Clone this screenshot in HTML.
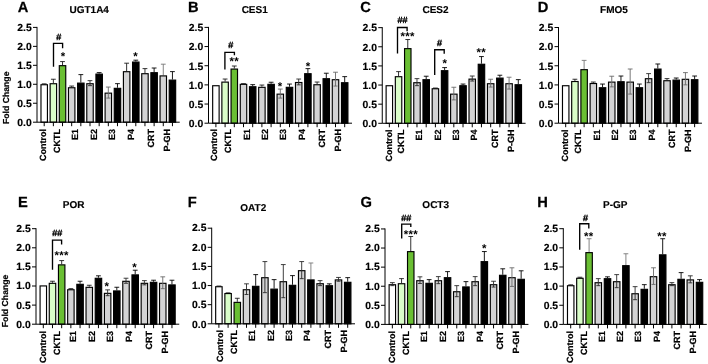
<!DOCTYPE html>
<html>
<head>
<meta charset="utf-8">
<title>Figure</title>
<style>
html,body{margin:0;padding:0;background:#fff;}
body{width:708px;height:364px;overflow:hidden;font-family:"Liberation Sans",sans-serif;}
svg{display:block;will-change:transform;}
text{font-family:"Liberation Sans",sans-serif;font-weight:bold;fill:#000;text-rendering:geometricPrecision;}
.tk{font-size:10.4px;stroke:#000;stroke-width:0.15px;}
.xl{font-size:9px;stroke:#000;stroke-width:0.2px;}
.yl{font-size:8.7px;stroke:#000;stroke-width:0.2px;}
.ti{font-size:10px;stroke:#000;stroke-width:0.15px;}
.lt{font-size:14.7px;stroke:#000;stroke-width:0.25px;}
.hs{font-size:9px;font-weight:normal;stroke:#000;stroke-width:0.4px;}
.st{font-size:11.4px;letter-spacing:0.25px;}
</style>
</head>
<body>
<svg width="708" height="364" viewBox="0 0 708 364">
<rect x="0" y="0" width="708" height="364" fill="#ffffff"/>
<g>
<path d="M44.2 84.15V83.85M41.8 83.85H46.6" stroke="#1c1c1c" stroke-width="0.9" fill="none"/>
<rect x="40.98" y="84.73" width="6.45" height="37.47" fill="#ffffff" stroke="#000" stroke-width="1.15"/>
<path d="M53.36 83.15V79.24M50.96 79.24H55.76" stroke="#1c1c1c" stroke-width="0.9" fill="none"/>
<rect x="50.14" y="83.72" width="6.45" height="38.48" fill="#dafdc9" stroke="#000" stroke-width="1.15"/>
<path d="M62.52 65.1V61.59M60.12 61.59H64.92" stroke="#1c1c1c" stroke-width="0.9" fill="none"/>
<rect x="59.3" y="65.67" width="6.45" height="56.53" fill="#6abf33" stroke="#000" stroke-width="1.15"/>
<path d="M71.68 87.16V86.06M69.28 86.06H74.08" stroke="#1c1c1c" stroke-width="0.9" fill="none"/>
<rect x="68.46" y="87.74" width="6.45" height="34.46" fill="#d3d3d4" stroke="#000" stroke-width="1.15"/>
<path d="M80.84 82.55V74.62M78.44 74.62H83.24" stroke="#000" stroke-width="0.9" fill="none"/>
<rect x="77.62" y="83.12" width="6.45" height="39.08" fill="#000000" stroke="#000" stroke-width="1.15"/>
<rect x="86.78" y="83.72" width="6.45" height="38.48" fill="#d3d3d4" stroke="#000" stroke-width="1.15"/>
<path d="M90 80.64V85.66M87.6 80.64H92.4M88 85.66H92" stroke="#2a2a2a" stroke-width="0.9" fill="none"/>
<path d="M99.16 73.52V72.62M96.76 72.62H101.56" stroke="#000" stroke-width="0.9" fill="none"/>
<rect x="95.94" y="74.1" width="6.45" height="48.1" fill="#000000" stroke="#000" stroke-width="1.15"/>
<rect x="105.1" y="93.15" width="6.45" height="29.05" fill="#d3d3d4" stroke="#000" stroke-width="1.15"/>
<path d="M108.32 87.06V98.09M105.92 87.06H110.72M106.32 98.09H110.32" stroke="#6a6a6a" stroke-width="0.9" fill="none"/>
<path d="M117.48 87.76V83.65M115.08 83.65H119.88" stroke="#000" stroke-width="0.9" fill="none"/>
<rect x="114.26" y="88.34" width="6.45" height="33.86" fill="#000000" stroke="#000" stroke-width="1.15"/>
<path d="M126.64 71.12V63.19M124.24 63.19H129.04" stroke="#1c1c1c" stroke-width="0.9" fill="none"/>
<rect x="123.42" y="71.69" width="6.45" height="50.51" fill="#d3d3d4" stroke="#000" stroke-width="1.15"/>
<path d="M135.8 61.49V60.18M133.4 60.18H138.2" stroke="#000" stroke-width="0.9" fill="none"/>
<rect x="132.57" y="62.06" width="6.45" height="60.14" fill="#000000" stroke="#000" stroke-width="1.15"/>
<path d="M144.96 73.12V68.61M142.56 68.61H147.36" stroke="#1c1c1c" stroke-width="0.9" fill="none"/>
<rect x="141.73" y="73.7" width="6.45" height="48.5" fill="#d3d3d4" stroke="#000" stroke-width="1.15"/>
<path d="M154.12 72.12V68.01M151.72 68.01H156.52" stroke="#000" stroke-width="0.9" fill="none"/>
<rect x="150.89" y="72.69" width="6.45" height="49.51" fill="#000000" stroke="#000" stroke-width="1.15"/>
<path d="M163.28 75.33V64.19M160.88 64.19H165.68" stroke="#777" stroke-width="0.9" fill="none"/>
<rect x="160.05" y="75.9" width="6.45" height="46.3" fill="#d3d3d4" stroke="#000" stroke-width="1.15"/>
<path d="M172.44 79.54V71.62M170.04 71.62H174.84" stroke="#000" stroke-width="0.9" fill="none"/>
<rect x="169.21" y="80.11" width="6.45" height="42.09" fill="#000000" stroke="#000" stroke-width="1.15"/>
<path d="M37 26.9V122.2H179.74" stroke="#000" stroke-width="1" fill="none"/>
<path d="M33 122.2H37" stroke="#000" stroke-width="1"/>
<text x="31.8" y="126" class="tk" text-anchor="end">0.0</text>
<path d="M33 103.24H37" stroke="#000" stroke-width="1"/>
<text x="31.8" y="107.04" class="tk" text-anchor="end">0.5</text>
<path d="M33 84.28H37" stroke="#000" stroke-width="1"/>
<text x="31.8" y="88.08" class="tk" text-anchor="end">1.0</text>
<path d="M33 65.32H37" stroke="#000" stroke-width="1"/>
<text x="31.8" y="69.12" class="tk" text-anchor="end">1.5</text>
<path d="M33 46.36H37" stroke="#000" stroke-width="1"/>
<text x="31.8" y="50.16" class="tk" text-anchor="end">2.0</text>
<path d="M33 27.4H37" stroke="#000" stroke-width="1"/>
<text x="31.8" y="31.2" class="tk" text-anchor="end">2.5</text>
<path d="M44.2 122.2V126.2" stroke="#000" stroke-width="1"/>
<path d="M53.36 122.2V126.2" stroke="#000" stroke-width="1"/>
<path d="M62.52 122.2V126.2" stroke="#000" stroke-width="1"/>
<path d="M71.68 122.2V126.2" stroke="#000" stroke-width="1"/>
<path d="M80.84 122.2V126.2" stroke="#000" stroke-width="1"/>
<path d="M90 122.2V126.2" stroke="#000" stroke-width="1"/>
<path d="M99.16 122.2V126.2" stroke="#000" stroke-width="1"/>
<path d="M108.32 122.2V126.2" stroke="#000" stroke-width="1"/>
<path d="M117.48 122.2V126.2" stroke="#000" stroke-width="1"/>
<path d="M126.64 122.2V126.2" stroke="#000" stroke-width="1"/>
<path d="M135.8 122.2V126.2" stroke="#000" stroke-width="1"/>
<path d="M144.96 122.2V126.2" stroke="#000" stroke-width="1"/>
<path d="M154.12 122.2V126.2" stroke="#000" stroke-width="1"/>
<path d="M163.28 122.2V126.2" stroke="#000" stroke-width="1"/>
<path d="M172.44 122.2V126.2" stroke="#000" stroke-width="1"/>
<text class="xl" text-anchor="end" transform="translate(46.2 129.1) rotate(-90)">Control</text>
<text class="xl" text-anchor="end" transform="translate(60.1 129.1) rotate(-90)">CKTL</text>
<text class="xl" text-anchor="end" transform="translate(78.3 129.1) rotate(-90)">E1</text>
<text class="xl" text-anchor="end" transform="translate(96.9 129.1) rotate(-90)">E2</text>
<text class="xl" text-anchor="end" transform="translate(114.8 129.1) rotate(-90)">E3</text>
<text class="xl" text-anchor="end" transform="translate(133.5 129.1) rotate(-90)">P4</text>
<text class="xl" text-anchor="end" transform="translate(153.8 129.1) rotate(-90)">CRT</text>
<text class="xl" text-anchor="end" transform="translate(170.4 129.1) rotate(-90)">P-GH</text>
<path d="M53.5 66.7V43.4H62.6V48.3" stroke="#000" stroke-width="1.35" fill="none"/>
<text class="hs" text-anchor="middle" x="58.7" y="40">#</text>
<text class="st" text-anchor="middle" x="63" y="60.2">*</text>
<text class="st" text-anchor="middle" x="135.7" y="59.7">*</text>
<text class="lt" x="17.7" y="11.5">A</text>
<text class="ti" text-anchor="middle" x="89.2" y="12.9">UGT1A4</text>
</g>
<g>
<rect x="212.67" y="85.73" width="6.45" height="37.47" fill="#ffffff" stroke="#000" stroke-width="1.15"/>
<path d="M225.1 81.54V79.04M222.7 79.04H227.5" stroke="#1c1c1c" stroke-width="0.9" fill="none"/>
<rect x="221.87" y="82.12" width="6.45" height="41.08" fill="#dafdc9" stroke="#000" stroke-width="1.15"/>
<path d="M234.3 68.51V66M231.9 66H236.7" stroke="#1c1c1c" stroke-width="0.9" fill="none"/>
<rect x="231.07" y="69.08" width="6.45" height="54.12" fill="#6abf33" stroke="#000" stroke-width="1.15"/>
<path d="M243.5 83.75V83.65M241.1 83.65H245.9" stroke="#1c1c1c" stroke-width="0.9" fill="none"/>
<rect x="240.27" y="84.33" width="6.45" height="38.87" fill="#d3d3d4" stroke="#000" stroke-width="1.15"/>
<path d="M252.7 86.16V84.65M250.3 84.65H255.1" stroke="#000" stroke-width="0.9" fill="none"/>
<rect x="249.47" y="86.73" width="6.45" height="36.47" fill="#000000" stroke="#000" stroke-width="1.15"/>
<path d="M261.9 86.76V85.05M259.5 85.05H264.3" stroke="#1c1c1c" stroke-width="0.9" fill="none"/>
<rect x="258.67" y="87.33" width="6.45" height="35.87" fill="#d3d3d4" stroke="#000" stroke-width="1.15"/>
<path d="M271.1 83.75V82.24M268.7 82.24H273.5" stroke="#000" stroke-width="0.9" fill="none"/>
<rect x="267.88" y="84.33" width="6.45" height="38.87" fill="#000000" stroke="#000" stroke-width="1.15"/>
<rect x="277.07" y="94.15" width="6.45" height="29.05" fill="#d3d3d4" stroke="#000" stroke-width="1.15"/>
<path d="M280.3 89.06V98.09M277.9 89.06H282.7M278.3 98.09H282.3" stroke="#6a6a6a" stroke-width="0.9" fill="none"/>
<path d="M289.5 86.76V84.05M287.1 84.05H291.9" stroke="#000" stroke-width="0.9" fill="none"/>
<rect x="286.27" y="87.33" width="6.45" height="35.87" fill="#000000" stroke="#000" stroke-width="1.15"/>
<rect x="295.47" y="82.52" width="6.45" height="40.68" fill="#d3d3d4" stroke="#000" stroke-width="1.15"/>
<path d="M298.7 79.04V84.85M296.3 79.04H301.1M296.7 84.85H300.7" stroke="#2a2a2a" stroke-width="0.9" fill="none"/>
<path d="M307.9 73.12V68.61M305.5 68.61H310.3" stroke="#000" stroke-width="0.9" fill="none"/>
<rect x="304.67" y="73.7" width="6.45" height="49.5" fill="#000000" stroke="#000" stroke-width="1.15"/>
<path d="M317.1 84.15V82.04M314.7 82.04H319.5" stroke="#1c1c1c" stroke-width="0.9" fill="none"/>
<rect x="313.88" y="84.73" width="6.45" height="38.47" fill="#d3d3d4" stroke="#000" stroke-width="1.15"/>
<path d="M326.3 78.13V73.22M323.9 73.22H328.7" stroke="#000" stroke-width="0.9" fill="none"/>
<rect x="323.07" y="78.71" width="6.45" height="44.49" fill="#000000" stroke="#000" stroke-width="1.15"/>
<rect x="332.27" y="79.71" width="6.45" height="43.49" fill="#d3d3d4" stroke="#000" stroke-width="1.15"/>
<path d="M335.5 72.22V86.06M333.1 72.22H337.9M333.5 86.06H337.5" stroke="#6a6a6a" stroke-width="0.9" fill="none"/>
<path d="M344.7 82.15V76.63M342.3 76.63H347.1" stroke="#000" stroke-width="0.9" fill="none"/>
<rect x="341.47" y="82.72" width="6.45" height="40.48" fill="#000000" stroke="#000" stroke-width="1.15"/>
<path d="M208.5 26.9V123.2H352" stroke="#000" stroke-width="1" fill="none"/>
<path d="M204.5 123.2H208.5" stroke="#000" stroke-width="1"/>
<text x="203.3" y="127" class="tk" text-anchor="end">0.0</text>
<path d="M204.5 104.04H208.5" stroke="#000" stroke-width="1"/>
<text x="203.3" y="107.84" class="tk" text-anchor="end">0.5</text>
<path d="M204.5 84.88H208.5" stroke="#000" stroke-width="1"/>
<text x="203.3" y="88.68" class="tk" text-anchor="end">1.0</text>
<path d="M204.5 65.72H208.5" stroke="#000" stroke-width="1"/>
<text x="203.3" y="69.52" class="tk" text-anchor="end">1.5</text>
<path d="M204.5 46.56H208.5" stroke="#000" stroke-width="1"/>
<text x="203.3" y="50.36" class="tk" text-anchor="end">2.0</text>
<path d="M204.5 27.4H208.5" stroke="#000" stroke-width="1"/>
<text x="203.3" y="31.2" class="tk" text-anchor="end">2.5</text>
<path d="M215.9 123.2V127.2" stroke="#000" stroke-width="1"/>
<path d="M225.1 123.2V127.2" stroke="#000" stroke-width="1"/>
<path d="M234.3 123.2V127.2" stroke="#000" stroke-width="1"/>
<path d="M243.5 123.2V127.2" stroke="#000" stroke-width="1"/>
<path d="M252.7 123.2V127.2" stroke="#000" stroke-width="1"/>
<path d="M261.9 123.2V127.2" stroke="#000" stroke-width="1"/>
<path d="M271.1 123.2V127.2" stroke="#000" stroke-width="1"/>
<path d="M280.3 123.2V127.2" stroke="#000" stroke-width="1"/>
<path d="M289.5 123.2V127.2" stroke="#000" stroke-width="1"/>
<path d="M298.7 123.2V127.2" stroke="#000" stroke-width="1"/>
<path d="M307.9 123.2V127.2" stroke="#000" stroke-width="1"/>
<path d="M317.1 123.2V127.2" stroke="#000" stroke-width="1"/>
<path d="M326.3 123.2V127.2" stroke="#000" stroke-width="1"/>
<path d="M335.5 123.2V127.2" stroke="#000" stroke-width="1"/>
<path d="M344.7 123.2V127.2" stroke="#000" stroke-width="1"/>
<text class="xl" text-anchor="end" transform="translate(217.1 129.1) rotate(-90)">Control</text>
<text class="xl" text-anchor="end" transform="translate(231.1 129.1) rotate(-90)">CKTL</text>
<text class="xl" text-anchor="end" transform="translate(249.6 129.1) rotate(-90)">E1</text>
<text class="xl" text-anchor="end" transform="translate(268.3 129.1) rotate(-90)">E2</text>
<text class="xl" text-anchor="end" transform="translate(286.1 129.1) rotate(-90)">E3</text>
<text class="xl" text-anchor="end" transform="translate(304.8 129.1) rotate(-90)">P4</text>
<text class="xl" text-anchor="end" transform="translate(325 129.1) rotate(-90)">CRT</text>
<text class="xl" text-anchor="end" transform="translate(341.4 129.1) rotate(-90)">P-GH</text>
<path d="M224.9 69.5V52.3H234.4V55.3" stroke="#000" stroke-width="1.35" fill="none"/>
<text class="hs" text-anchor="middle" x="230.7" y="47.6">#</text>
<text class="st" text-anchor="middle" x="234.2" y="65.4">**</text>
<text class="st" text-anchor="middle" x="280.2" y="89.8">*</text>
<text class="st" text-anchor="middle" x="308" y="69.6">*</text>
<text class="lt" x="188.1" y="11.8">B</text>
<text class="ti" text-anchor="middle" x="254.7" y="12.9">CES1</text>
</g>
<g>
<rect x="386.12" y="85.73" width="6.45" height="37.57" fill="#ffffff" stroke="#000" stroke-width="1.15"/>
<path d="M398.56 76.13V71.62M396.16 71.62H400.96" stroke="#1c1c1c" stroke-width="0.9" fill="none"/>
<rect x="395.33" y="76.7" width="6.45" height="46.6" fill="#dafdc9" stroke="#000" stroke-width="1.15"/>
<path d="M407.77 48.05V39.53M405.37 39.53H410.17" stroke="#1c1c1c" stroke-width="0.9" fill="none"/>
<rect x="404.55" y="48.63" width="6.45" height="74.67" fill="#6abf33" stroke="#000" stroke-width="1.15"/>
<rect x="413.75" y="82.72" width="6.45" height="40.58" fill="#d3d3d4" stroke="#000" stroke-width="1.15"/>
<path d="M416.98 78.63V85.66M414.58 78.63H419.38M414.98 85.66H418.98" stroke="#2a2a2a" stroke-width="0.9" fill="none"/>
<path d="M426.19 79.14V76.23M423.79 76.23H428.59" stroke="#000" stroke-width="0.9" fill="none"/>
<rect x="422.97" y="79.71" width="6.45" height="43.59" fill="#000000" stroke="#000" stroke-width="1.15"/>
<path d="M435.4 88.16V88.06M433 88.06H437.8" stroke="#1c1c1c" stroke-width="0.9" fill="none"/>
<rect x="432.18" y="88.74" width="6.45" height="34.56" fill="#d3d3d4" stroke="#000" stroke-width="1.15"/>
<path d="M444.61 70.11V67.6M442.21 67.6H447.01" stroke="#000" stroke-width="0.9" fill="none"/>
<rect x="441.38" y="70.69" width="6.45" height="52.61" fill="#000000" stroke="#000" stroke-width="1.15"/>
<rect x="450.6" y="94.15" width="6.45" height="29.15" fill="#d3d3d4" stroke="#000" stroke-width="1.15"/>
<path d="M453.82 87.26V99.9M451.42 87.26H456.22M451.82 99.9H455.82" stroke="#6a6a6a" stroke-width="0.9" fill="none"/>
<path d="M463.03 85.15V84.05M460.63 84.05H465.43" stroke="#000" stroke-width="0.9" fill="none"/>
<rect x="459.81" y="85.73" width="6.45" height="37.57" fill="#000000" stroke="#000" stroke-width="1.15"/>
<rect x="469.01" y="79.11" width="6.45" height="44.19" fill="#d3d3d4" stroke="#000" stroke-width="1.15"/>
<path d="M472.24 76.03V81.04M469.84 76.03H474.64M470.24 81.04H474.24" stroke="#2a2a2a" stroke-width="0.9" fill="none"/>
<path d="M481.45 63.69V56.57M479.05 56.57H483.85" stroke="#000" stroke-width="0.9" fill="none"/>
<rect x="478.23" y="64.27" width="6.45" height="59.03" fill="#000000" stroke="#000" stroke-width="1.15"/>
<rect x="487.44" y="83.72" width="6.45" height="39.58" fill="#d3d3d4" stroke="#000" stroke-width="1.15"/>
<path d="M490.66 79.24V87.06M488.26 79.24H493.06M488.66 87.06H492.66" stroke="#6a6a6a" stroke-width="0.9" fill="none"/>
<path d="M499.87 77.53V75.23M497.47 75.23H502.27" stroke="#000" stroke-width="0.9" fill="none"/>
<rect x="496.64" y="78.11" width="6.45" height="45.19" fill="#000000" stroke="#000" stroke-width="1.15"/>
<rect x="505.86" y="83.72" width="6.45" height="39.58" fill="#d3d3d4" stroke="#000" stroke-width="1.15"/>
<path d="M509.08 77.23V89.07M506.68 77.23H511.48M507.08 89.07H511.08" stroke="#6a6a6a" stroke-width="0.9" fill="none"/>
<path d="M518.29 84.15V79.64M515.89 79.64H520.69" stroke="#000" stroke-width="0.9" fill="none"/>
<rect x="515.07" y="84.73" width="6.45" height="38.57" fill="#000000" stroke="#000" stroke-width="1.15"/>
<path d="M382.25 27.15V123.3H525.59" stroke="#000" stroke-width="1" fill="none"/>
<path d="M378.25 123.3H382.25" stroke="#000" stroke-width="1"/>
<text x="377.05" y="127.1" class="tk" text-anchor="end">0.0</text>
<path d="M378.25 104.17H382.25" stroke="#000" stroke-width="1"/>
<text x="377.05" y="107.97" class="tk" text-anchor="end">0.5</text>
<path d="M378.25 85.04H382.25" stroke="#000" stroke-width="1"/>
<text x="377.05" y="88.84" class="tk" text-anchor="end">1.0</text>
<path d="M378.25 65.91H382.25" stroke="#000" stroke-width="1"/>
<text x="377.05" y="69.71" class="tk" text-anchor="end">1.5</text>
<path d="M378.25 46.78H382.25" stroke="#000" stroke-width="1"/>
<text x="377.05" y="50.58" class="tk" text-anchor="end">2.0</text>
<path d="M378.25 27.65H382.25" stroke="#000" stroke-width="1"/>
<text x="377.05" y="31.45" class="tk" text-anchor="end">2.5</text>
<path d="M389.35 123.3V127.3" stroke="#000" stroke-width="1"/>
<path d="M398.56 123.3V127.3" stroke="#000" stroke-width="1"/>
<path d="M407.77 123.3V127.3" stroke="#000" stroke-width="1"/>
<path d="M416.98 123.3V127.3" stroke="#000" stroke-width="1"/>
<path d="M426.19 123.3V127.3" stroke="#000" stroke-width="1"/>
<path d="M435.4 123.3V127.3" stroke="#000" stroke-width="1"/>
<path d="M444.61 123.3V127.3" stroke="#000" stroke-width="1"/>
<path d="M453.82 123.3V127.3" stroke="#000" stroke-width="1"/>
<path d="M463.03 123.3V127.3" stroke="#000" stroke-width="1"/>
<path d="M472.24 123.3V127.3" stroke="#000" stroke-width="1"/>
<path d="M481.45 123.3V127.3" stroke="#000" stroke-width="1"/>
<path d="M490.66 123.3V127.3" stroke="#000" stroke-width="1"/>
<path d="M499.87 123.3V127.3" stroke="#000" stroke-width="1"/>
<path d="M509.08 123.3V127.3" stroke="#000" stroke-width="1"/>
<path d="M518.29 123.3V127.3" stroke="#000" stroke-width="1"/>
<text class="xl" text-anchor="end" transform="translate(391.7 129.6) rotate(-90)">Control</text>
<text class="xl" text-anchor="end" transform="translate(404.1 129.6) rotate(-90)">CKTL</text>
<text class="xl" text-anchor="end" transform="translate(422.2 129.6) rotate(-90)">E1</text>
<text class="xl" text-anchor="end" transform="translate(440.7 129.6) rotate(-90)">E2</text>
<text class="xl" text-anchor="end" transform="translate(458.7 129.6) rotate(-90)">E3</text>
<text class="xl" text-anchor="end" transform="translate(477.4 129.6) rotate(-90)">P4</text>
<text class="xl" text-anchor="end" transform="translate(497.6 129.6) rotate(-90)">CRT</text>
<text class="xl" text-anchor="end" transform="translate(514.1 129.6) rotate(-90)">P-GH</text>
<path d="M397.5 53.6V27.5H407.1V31.2" stroke="#000" stroke-width="1.35" fill="none"/>
<path d="M434.7 75.1V49.7H444.2V53.7" stroke="#000" stroke-width="1.35" fill="none"/>
<text class="hs" text-anchor="middle" x="402.5" y="23.1">##</text>
<text class="st" text-anchor="middle" x="407.6" y="40.1">***</text>
<text class="hs" text-anchor="middle" x="439.6" y="46">#</text>
<text class="st" text-anchor="middle" x="444.8" y="67.2">*</text>
<text class="st" text-anchor="middle" x="481.3" y="56.4">**</text>
<text class="lt" x="360.3" y="11.9">C</text>
<text class="ti" text-anchor="middle" x="435.5" y="13.3">CES2</text>
</g>
<g>
<rect x="562.48" y="85.73" width="6.45" height="37.47" fill="#ffffff" stroke="#000" stroke-width="1.15"/>
<path d="M574.91 80.94V79.24M572.51 79.24H577.31" stroke="#1c1c1c" stroke-width="0.9" fill="none"/>
<rect x="571.69" y="81.52" width="6.45" height="41.68" fill="#dafdc9" stroke="#000" stroke-width="1.15"/>
<path d="M584.12 69.11V60.38M581.72 60.38H586.52" stroke="#777" stroke-width="0.9" fill="none"/>
<rect x="580.9" y="69.68" width="6.45" height="53.52" fill="#6abf33" stroke="#000" stroke-width="1.15"/>
<path d="M593.33 82.95V82.04M590.93 82.04H595.73" stroke="#1c1c1c" stroke-width="0.9" fill="none"/>
<rect x="590.11" y="83.52" width="6.45" height="39.68" fill="#d3d3d4" stroke="#000" stroke-width="1.15"/>
<path d="M602.54 87.16V84.05M600.14 84.05H604.94" stroke="#000" stroke-width="0.9" fill="none"/>
<rect x="599.32" y="87.74" width="6.45" height="35.46" fill="#000000" stroke="#000" stroke-width="1.15"/>
<rect x="608.53" y="82.12" width="6.45" height="41.08" fill="#d3d3d4" stroke="#000" stroke-width="1.15"/>
<path d="M611.75 76.23V86.86M609.35 76.23H614.15M609.75 86.86H613.75" stroke="#6a6a6a" stroke-width="0.9" fill="none"/>
<path d="M620.96 81.14V76.03M618.56 76.03H623.36" stroke="#000" stroke-width="0.9" fill="none"/>
<rect x="617.74" y="81.72" width="6.45" height="41.48" fill="#000000" stroke="#000" stroke-width="1.15"/>
<rect x="626.95" y="82.12" width="6.45" height="41.08" fill="#d3d3d4" stroke="#000" stroke-width="1.15"/>
<path d="M630.17 69.01V94.08M627.77 69.01H632.57M628.17 94.08H632.17" stroke="#6a6a6a" stroke-width="0.9" fill="none"/>
<path d="M639.38 87.16V84.05M636.98 84.05H641.78" stroke="#000" stroke-width="0.9" fill="none"/>
<rect x="636.16" y="87.74" width="6.45" height="35.46" fill="#000000" stroke="#000" stroke-width="1.15"/>
<rect x="645.37" y="78.71" width="6.45" height="44.49" fill="#d3d3d4" stroke="#000" stroke-width="1.15"/>
<path d="M648.59 73.62V82.65M646.19 73.62H650.99M646.59 82.65H650.59" stroke="#2a2a2a" stroke-width="0.9" fill="none"/>
<path d="M657.8 68.51V63.99M655.4 63.99H660.2" stroke="#000" stroke-width="0.9" fill="none"/>
<rect x="654.58" y="69.08" width="6.45" height="54.12" fill="#000000" stroke="#000" stroke-width="1.15"/>
<path d="M667.01 80.14V78.63M664.61 78.63H669.41" stroke="#1c1c1c" stroke-width="0.9" fill="none"/>
<rect x="663.79" y="80.72" width="6.45" height="42.48" fill="#d3d3d4" stroke="#000" stroke-width="1.15"/>
<path d="M676.22 79.54V78.03M673.82 78.03H678.62" stroke="#000" stroke-width="0.9" fill="none"/>
<rect x="673" y="80.11" width="6.45" height="43.09" fill="#000000" stroke="#000" stroke-width="1.15"/>
<rect x="682.21" y="79.31" width="6.45" height="43.89" fill="#d3d3d4" stroke="#000" stroke-width="1.15"/>
<path d="M685.43 72.62V84.85M683.03 72.62H687.83M683.43 84.85H687.43" stroke="#6a6a6a" stroke-width="0.9" fill="none"/>
<path d="M694.64 79.14V76.03M692.24 76.03H697.04" stroke="#000" stroke-width="0.9" fill="none"/>
<rect x="691.42" y="79.71" width="6.45" height="43.49" fill="#000000" stroke="#000" stroke-width="1.15"/>
<path d="M558.5 27V123.2H701.94" stroke="#000" stroke-width="1" fill="none"/>
<path d="M554.5 123.2H558.5" stroke="#000" stroke-width="1"/>
<text x="553.3" y="127" class="tk" text-anchor="end">0.0</text>
<path d="M554.5 104.06H558.5" stroke="#000" stroke-width="1"/>
<text x="553.3" y="107.86" class="tk" text-anchor="end">0.5</text>
<path d="M554.5 84.92H558.5" stroke="#000" stroke-width="1"/>
<text x="553.3" y="88.72" class="tk" text-anchor="end">1.0</text>
<path d="M554.5 65.78H558.5" stroke="#000" stroke-width="1"/>
<text x="553.3" y="69.58" class="tk" text-anchor="end">1.5</text>
<path d="M554.5 46.64H558.5" stroke="#000" stroke-width="1"/>
<text x="553.3" y="50.44" class="tk" text-anchor="end">2.0</text>
<path d="M554.5 27.5H558.5" stroke="#000" stroke-width="1"/>
<text x="553.3" y="31.3" class="tk" text-anchor="end">2.5</text>
<path d="M565.7 123.2V127.2" stroke="#000" stroke-width="1"/>
<path d="M574.91 123.2V127.2" stroke="#000" stroke-width="1"/>
<path d="M584.12 123.2V127.2" stroke="#000" stroke-width="1"/>
<path d="M593.33 123.2V127.2" stroke="#000" stroke-width="1"/>
<path d="M602.54 123.2V127.2" stroke="#000" stroke-width="1"/>
<path d="M611.75 123.2V127.2" stroke="#000" stroke-width="1"/>
<path d="M620.96 123.2V127.2" stroke="#000" stroke-width="1"/>
<path d="M630.17 123.2V127.2" stroke="#000" stroke-width="1"/>
<path d="M639.38 123.2V127.2" stroke="#000" stroke-width="1"/>
<path d="M648.59 123.2V127.2" stroke="#000" stroke-width="1"/>
<path d="M657.8 123.2V127.2" stroke="#000" stroke-width="1"/>
<path d="M667.01 123.2V127.2" stroke="#000" stroke-width="1"/>
<path d="M676.22 123.2V127.2" stroke="#000" stroke-width="1"/>
<path d="M685.43 123.2V127.2" stroke="#000" stroke-width="1"/>
<path d="M694.64 123.2V127.2" stroke="#000" stroke-width="1"/>
<text class="xl" text-anchor="end" transform="translate(568.1 129.6) rotate(-90)">Control</text>
<text class="xl" text-anchor="end" transform="translate(581.3 129.6) rotate(-90)">CKTL</text>
<text class="xl" text-anchor="end" transform="translate(599.5 129.6) rotate(-90)">E1</text>
<text class="xl" text-anchor="end" transform="translate(618.2 129.6) rotate(-90)">E2</text>
<text class="xl" text-anchor="end" transform="translate(636.1 129.6) rotate(-90)">E3</text>
<text class="xl" text-anchor="end" transform="translate(654.8 129.6) rotate(-90)">P4</text>
<text class="xl" text-anchor="end" transform="translate(675 129.6) rotate(-90)">CRT</text>
<text class="xl" text-anchor="end" transform="translate(691.4 129.6) rotate(-90)">P-GH</text>
<text class="lt" x="537.8" y="11.9">D</text>
<text class="ti" text-anchor="middle" x="614" y="13.2">FMO5</text>
</g>
<g>
<rect x="40.08" y="285.93" width="6.45" height="38.27" fill="#ffffff" stroke="#000" stroke-width="1.15"/>
<path d="M52.49 282.74V281.24M50.09 281.24H54.89" stroke="#1c1c1c" stroke-width="0.9" fill="none"/>
<rect x="49.27" y="283.32" width="6.45" height="40.88" fill="#dafdc9" stroke="#000" stroke-width="1.15"/>
<path d="M61.68 264.29V260.58M59.28 260.58H64.08" stroke="#1c1c1c" stroke-width="0.9" fill="none"/>
<rect x="58.45" y="264.87" width="6.45" height="59.33" fill="#6abf33" stroke="#000" stroke-width="1.15"/>
<path d="M70.87 289.16V288.66M68.47 288.66H73.27" stroke="#1c1c1c" stroke-width="0.9" fill="none"/>
<rect x="67.65" y="289.74" width="6.45" height="34.46" fill="#d3d3d4" stroke="#000" stroke-width="1.15"/>
<path d="M80.06 283.75V281.24M77.66 281.24H82.46" stroke="#000" stroke-width="0.9" fill="none"/>
<rect x="76.84" y="284.32" width="6.45" height="39.88" fill="#000000" stroke="#000" stroke-width="1.15"/>
<path d="M89.25 286.75V285.25M86.85 285.25H91.65" stroke="#1c1c1c" stroke-width="0.9" fill="none"/>
<rect x="86.03" y="287.33" width="6.45" height="36.87" fill="#d3d3d4" stroke="#000" stroke-width="1.15"/>
<path d="M98.44 277.73V275.82M96.04 275.82H100.84" stroke="#000" stroke-width="0.9" fill="none"/>
<rect x="95.22" y="278.3" width="6.45" height="45.9" fill="#000000" stroke="#000" stroke-width="1.15"/>
<rect x="104.41" y="293.35" width="6.45" height="30.85" fill="#d3d3d4" stroke="#000" stroke-width="1.15"/>
<path d="M107.63 289.86V295.68M105.23 289.86H110.03M105.63 295.68H109.63" stroke="#2a2a2a" stroke-width="0.9" fill="none"/>
<path d="M116.82 290.36V287.25M114.42 287.25H119.22" stroke="#000" stroke-width="0.9" fill="none"/>
<rect x="113.59" y="290.94" width="6.45" height="33.26" fill="#000000" stroke="#000" stroke-width="1.15"/>
<rect x="122.78" y="281.31" width="6.45" height="42.89" fill="#d3d3d4" stroke="#000" stroke-width="1.15"/>
<path d="M126.01 278.23V283.25M123.61 278.23H128.41M124.01 283.25H128.01" stroke="#2a2a2a" stroke-width="0.9" fill="none"/>
<path d="M135.2 274.32V270.21M132.8 270.21H137.6" stroke="#000" stroke-width="0.9" fill="none"/>
<rect x="131.97" y="274.89" width="6.45" height="49.31" fill="#000000" stroke="#000" stroke-width="1.15"/>
<rect x="141.16" y="283.32" width="6.45" height="40.88" fill="#d3d3d4" stroke="#000" stroke-width="1.15"/>
<path d="M144.39 280.64V284.85M141.99 280.64H146.79M142.39 284.85H146.39" stroke="#2a2a2a" stroke-width="0.9" fill="none"/>
<path d="M153.58 281.74V280.23M151.18 280.23H155.98" stroke="#000" stroke-width="0.9" fill="none"/>
<rect x="150.35" y="282.32" width="6.45" height="41.88" fill="#000000" stroke="#000" stroke-width="1.15"/>
<rect x="159.54" y="283.32" width="6.45" height="40.88" fill="#d3d3d4" stroke="#000" stroke-width="1.15"/>
<path d="M162.77 276.83V288.66M160.37 276.83H165.17M160.77 288.66H164.77" stroke="#6a6a6a" stroke-width="0.9" fill="none"/>
<path d="M171.96 284.35V280.23M169.56 280.23H174.36" stroke="#000" stroke-width="0.9" fill="none"/>
<rect x="168.73" y="284.92" width="6.45" height="39.28" fill="#000000" stroke="#000" stroke-width="1.15"/>
<path d="M36 228.2V324.2H179.26" stroke="#000" stroke-width="1" fill="none"/>
<path d="M32 324.2H36" stroke="#000" stroke-width="1"/>
<text x="30.8" y="327.9" class="tk" text-anchor="end">0.0</text>
<path d="M32 305.1H36" stroke="#000" stroke-width="1"/>
<text x="30.8" y="308.68" class="tk" text-anchor="end">0.5</text>
<path d="M32 286H36" stroke="#000" stroke-width="1"/>
<text x="30.8" y="289.46" class="tk" text-anchor="end">1.0</text>
<path d="M32 266.9H36" stroke="#000" stroke-width="1"/>
<text x="30.8" y="270.24" class="tk" text-anchor="end">1.5</text>
<path d="M32 247.8H36" stroke="#000" stroke-width="1"/>
<text x="30.8" y="251.02" class="tk" text-anchor="end">2.0</text>
<path d="M32 228.7H36" stroke="#000" stroke-width="1"/>
<text x="30.8" y="231.8" class="tk" text-anchor="end">2.5</text>
<path d="M43.3 324.2V328.2" stroke="#000" stroke-width="1"/>
<path d="M52.49 324.2V328.2" stroke="#000" stroke-width="1"/>
<path d="M61.68 324.2V328.2" stroke="#000" stroke-width="1"/>
<path d="M70.87 324.2V328.2" stroke="#000" stroke-width="1"/>
<path d="M80.06 324.2V328.2" stroke="#000" stroke-width="1"/>
<path d="M89.25 324.2V328.2" stroke="#000" stroke-width="1"/>
<path d="M98.44 324.2V328.2" stroke="#000" stroke-width="1"/>
<path d="M107.63 324.2V328.2" stroke="#000" stroke-width="1"/>
<path d="M116.82 324.2V328.2" stroke="#000" stroke-width="1"/>
<path d="M126.01 324.2V328.2" stroke="#000" stroke-width="1"/>
<path d="M135.2 324.2V328.2" stroke="#000" stroke-width="1"/>
<path d="M144.39 324.2V328.2" stroke="#000" stroke-width="1"/>
<path d="M153.58 324.2V328.2" stroke="#000" stroke-width="1"/>
<path d="M162.77 324.2V328.2" stroke="#000" stroke-width="1"/>
<path d="M171.96 324.2V328.2" stroke="#000" stroke-width="1"/>
<text class="xl" text-anchor="end" transform="translate(45.7 331) rotate(-90)">Control</text>
<text class="xl" text-anchor="end" transform="translate(59.7 331) rotate(-90)">CKTL</text>
<text class="xl" text-anchor="end" transform="translate(76.4 331) rotate(-90)">E1</text>
<text class="xl" text-anchor="end" transform="translate(95.3 331) rotate(-90)">E2</text>
<text class="xl" text-anchor="end" transform="translate(113.2 331) rotate(-90)">E3</text>
<text class="xl" text-anchor="end" transform="translate(132 331) rotate(-90)">P4</text>
<text class="xl" text-anchor="end" transform="translate(152 331) rotate(-90)">CRT</text>
<text class="xl" text-anchor="end" transform="translate(168.4 331) rotate(-90)">P-GH</text>
<path d="M52.5 269.8V240.1H61.6V244.5" stroke="#000" stroke-width="1.35" fill="none"/>
<text class="hs" text-anchor="middle" x="57.2" y="235.7">##</text>
<text class="st" text-anchor="middle" x="61.6" y="259.4">***</text>
<text class="st" text-anchor="middle" x="106.8" y="289.8">*</text>
<text class="st" text-anchor="middle" x="134.7" y="270.8">*</text>
<text class="lt" x="17.9" y="207.3">E</text>
<text class="ti" text-anchor="middle" x="73.7" y="207.7">POR</text>
</g>
<g>
<path d="M218.9 286.15V286.05M216.5 286.05H221.3" stroke="#1c1c1c" stroke-width="0.9" fill="none"/>
<rect x="215.67" y="286.73" width="6.45" height="37.07" fill="#ffffff" stroke="#000" stroke-width="1.15"/>
<path d="M228.1 292.97V292.87M225.7 292.87H230.5" stroke="#1c1c1c" stroke-width="0.9" fill="none"/>
<rect x="224.87" y="293.55" width="6.45" height="30.25" fill="#dafdc9" stroke="#000" stroke-width="1.15"/>
<path d="M237.3 301.8V298.28M234.9 298.28H239.7" stroke="#1c1c1c" stroke-width="0.9" fill="none"/>
<rect x="234.07" y="302.37" width="6.45" height="21.43" fill="#6abf33" stroke="#000" stroke-width="1.15"/>
<rect x="243.27" y="289.74" width="6.45" height="34.06" fill="#d3d3d4" stroke="#000" stroke-width="1.15"/>
<path d="M246.5 283.84V294.48M244.1 283.84H248.9M244.5 294.48H248.5" stroke="#2a2a2a" stroke-width="0.9" fill="none"/>
<path d="M255.7 285.75V274.62M253.3 274.62H258.1" stroke="#000" stroke-width="0.9" fill="none"/>
<rect x="252.47" y="286.33" width="6.45" height="37.47" fill="#000000" stroke="#000" stroke-width="1.15"/>
<rect x="261.67" y="277.7" width="6.45" height="46.1" fill="#d3d3d4" stroke="#000" stroke-width="1.15"/>
<path d="M264.9 261.58V292.67M262.5 261.58H267.3M262.9 292.67H266.9" stroke="#2a2a2a" stroke-width="0.9" fill="none"/>
<path d="M274.1 288.56V279.63M271.7 279.63H276.5" stroke="#000" stroke-width="0.9" fill="none"/>
<rect x="270.88" y="289.13" width="6.45" height="34.67" fill="#000000" stroke="#000" stroke-width="1.15"/>
<rect x="280.07" y="281.71" width="6.45" height="42.09" fill="#d3d3d4" stroke="#000" stroke-width="1.15"/>
<path d="M283.3 264.59V297.69M280.9 264.59H285.7M281.3 297.69H285.3" stroke="#2a2a2a" stroke-width="0.9" fill="none"/>
<path d="M292.5 284.75V275.62M290.1 275.62H294.9" stroke="#000" stroke-width="0.9" fill="none"/>
<rect x="289.27" y="285.32" width="6.45" height="38.48" fill="#000000" stroke="#000" stroke-width="1.15"/>
<rect x="298.47" y="270.68" width="6.45" height="53.12" fill="#d3d3d4" stroke="#000" stroke-width="1.15"/>
<path d="M301.7 261.58V278.63M299.3 261.58H304.1M299.7 278.63H303.7" stroke="#2a2a2a" stroke-width="0.9" fill="none"/>
<path d="M310.9 279.33V262.99M308.5 262.99H313.3" stroke="#777" stroke-width="0.9" fill="none"/>
<rect x="307.67" y="279.91" width="6.45" height="43.89" fill="#000000" stroke="#000" stroke-width="1.15"/>
<rect x="316.88" y="283.72" width="6.45" height="40.08" fill="#d3d3d4" stroke="#000" stroke-width="1.15"/>
<path d="M320.1 280.63V285.65M317.7 280.63H322.5M318.1 285.65H322.1" stroke="#2a2a2a" stroke-width="0.9" fill="none"/>
<path d="M329.3 285.15V283.84M326.9 283.84H331.7" stroke="#000" stroke-width="0.9" fill="none"/>
<rect x="326.07" y="285.72" width="6.45" height="38.08" fill="#000000" stroke="#000" stroke-width="1.15"/>
<rect x="335.27" y="279.91" width="6.45" height="43.89" fill="#d3d3d4" stroke="#000" stroke-width="1.15"/>
<path d="M338.5 277.43V281.24M336.1 277.43H340.9M336.5 281.24H340.5" stroke="#2a2a2a" stroke-width="0.9" fill="none"/>
<path d="M347.7 281.74V277.63M345.3 277.63H350.1" stroke="#000" stroke-width="0.9" fill="none"/>
<rect x="344.47" y="282.31" width="6.45" height="41.49" fill="#000000" stroke="#000" stroke-width="1.15"/>
<path d="M211.7 227.7V323.8H355" stroke="#000" stroke-width="1" fill="none"/>
<path d="M207.7 323.8H211.7" stroke="#000" stroke-width="1"/>
<text x="206.5" y="327.5" class="tk" text-anchor="end">0.0</text>
<path d="M207.7 304.68H211.7" stroke="#000" stroke-width="1"/>
<text x="206.5" y="308.26" class="tk" text-anchor="end">0.5</text>
<path d="M207.7 285.56H211.7" stroke="#000" stroke-width="1"/>
<text x="206.5" y="289.02" class="tk" text-anchor="end">1.0</text>
<path d="M207.7 266.44H211.7" stroke="#000" stroke-width="1"/>
<text x="206.5" y="269.78" class="tk" text-anchor="end">1.5</text>
<path d="M207.7 247.32H211.7" stroke="#000" stroke-width="1"/>
<text x="206.5" y="250.54" class="tk" text-anchor="end">2.0</text>
<path d="M207.7 228.2H211.7" stroke="#000" stroke-width="1"/>
<text x="206.5" y="231.3" class="tk" text-anchor="end">2.5</text>
<path d="M218.9 323.8V327.8" stroke="#000" stroke-width="1"/>
<path d="M228.1 323.8V327.8" stroke="#000" stroke-width="1"/>
<path d="M237.3 323.8V327.8" stroke="#000" stroke-width="1"/>
<path d="M246.5 323.8V327.8" stroke="#000" stroke-width="1"/>
<path d="M255.7 323.8V327.8" stroke="#000" stroke-width="1"/>
<path d="M264.9 323.8V327.8" stroke="#000" stroke-width="1"/>
<path d="M274.1 323.8V327.8" stroke="#000" stroke-width="1"/>
<path d="M283.3 323.8V327.8" stroke="#000" stroke-width="1"/>
<path d="M292.5 323.8V327.8" stroke="#000" stroke-width="1"/>
<path d="M301.7 323.8V327.8" stroke="#000" stroke-width="1"/>
<path d="M310.9 323.8V327.8" stroke="#000" stroke-width="1"/>
<path d="M320.1 323.8V327.8" stroke="#000" stroke-width="1"/>
<path d="M329.3 323.8V327.8" stroke="#000" stroke-width="1"/>
<path d="M338.5 323.8V327.8" stroke="#000" stroke-width="1"/>
<path d="M347.7 323.8V327.8" stroke="#000" stroke-width="1"/>
<text class="xl" text-anchor="end" transform="translate(222.9 329.9) rotate(-90)">Control</text>
<text class="xl" text-anchor="end" transform="translate(236.6 329.9) rotate(-90)">CKTL</text>
<text class="xl" text-anchor="end" transform="translate(255 329.9) rotate(-90)">E1</text>
<text class="xl" text-anchor="end" transform="translate(273.7 329.9) rotate(-90)">E2</text>
<text class="xl" text-anchor="end" transform="translate(291.7 329.9) rotate(-90)">E3</text>
<text class="xl" text-anchor="end" transform="translate(310.4 329.9) rotate(-90)">P4</text>
<text class="xl" text-anchor="end" transform="translate(330.6 329.9) rotate(-90)">CRT</text>
<text class="xl" text-anchor="end" transform="translate(346.7 329.9) rotate(-90)">P-GH</text>
<text class="lt" x="187.8" y="207.3">F</text>
<text class="ti" text-anchor="middle" x="253.3" y="210.7">OAT2</text>
</g>
<g>
<rect x="389.12" y="284.72" width="6.45" height="39.68" fill="#ffffff" stroke="#000" stroke-width="1.15"/>
<path d="M392.35 282.64V285.65M389.95 282.64H394.75M390.35 285.65H394.35" stroke="#2a2a2a" stroke-width="0.9" fill="none"/>
<path d="M401.55 283.14V278.63M399.15 278.63H403.95" stroke="#1c1c1c" stroke-width="0.9" fill="none"/>
<rect x="398.32" y="283.72" width="6.45" height="40.68" fill="#dafdc9" stroke="#000" stroke-width="1.15"/>
<path d="M410.75 251.05V236.51M408.35 236.51H413.15" stroke="#1c1c1c" stroke-width="0.9" fill="none"/>
<rect x="407.52" y="251.63" width="6.45" height="72.77" fill="#6abf33" stroke="#000" stroke-width="1.15"/>
<rect x="416.73" y="280.71" width="6.45" height="43.69" fill="#d3d3d4" stroke="#000" stroke-width="1.15"/>
<path d="M419.95 276.83V283.45M417.55 276.83H422.35M417.95 283.45H421.95" stroke="#2a2a2a" stroke-width="0.9" fill="none"/>
<path d="M429.15 282.74V279.63M426.75 279.63H431.55" stroke="#000" stroke-width="0.9" fill="none"/>
<rect x="425.93" y="283.32" width="6.45" height="41.08" fill="#000000" stroke="#000" stroke-width="1.15"/>
<rect x="435.12" y="280.71" width="6.45" height="43.69" fill="#d3d3d4" stroke="#000" stroke-width="1.15"/>
<path d="M438.35 276.62V283.65M435.95 276.62H440.75M436.35 283.65H440.35" stroke="#2a2a2a" stroke-width="0.9" fill="none"/>
<path d="M447.55 277.13V271.61M445.15 271.61H449.95" stroke="#000" stroke-width="0.9" fill="none"/>
<rect x="444.32" y="277.7" width="6.45" height="46.7" fill="#000000" stroke="#000" stroke-width="1.15"/>
<rect x="453.52" y="291.74" width="6.45" height="32.66" fill="#d3d3d4" stroke="#000" stroke-width="1.15"/>
<path d="M456.75 285.65V296.68M454.35 285.65H459.15M454.75 296.68H458.75" stroke="#2a2a2a" stroke-width="0.9" fill="none"/>
<path d="M465.95 286.35V281.64M463.55 281.64H468.35" stroke="#000" stroke-width="0.9" fill="none"/>
<rect x="462.73" y="286.93" width="6.45" height="37.47" fill="#000000" stroke="#000" stroke-width="1.15"/>
<rect x="471.93" y="281.71" width="6.45" height="42.69" fill="#d3d3d4" stroke="#000" stroke-width="1.15"/>
<path d="M475.15 276.62V285.65M472.75 276.62H477.55M473.15 285.65H477.15" stroke="#2a2a2a" stroke-width="0.9" fill="none"/>
<path d="M484.35 261.08V251.55M481.95 251.55H486.75" stroke="#000" stroke-width="0.9" fill="none"/>
<rect x="481.12" y="261.66" width="6.45" height="62.74" fill="#000000" stroke="#000" stroke-width="1.15"/>
<rect x="490.32" y="284.72" width="6.45" height="39.68" fill="#d3d3d4" stroke="#000" stroke-width="1.15"/>
<path d="M493.55 281.24V287.06M491.15 281.24H495.95M491.55 287.06H495.55" stroke="#2a2a2a" stroke-width="0.9" fill="none"/>
<path d="M502.75 274.72V268.8M500.35 268.8H505.15" stroke="#000" stroke-width="0.9" fill="none"/>
<rect x="499.52" y="275.3" width="6.45" height="49.1" fill="#000000" stroke="#000" stroke-width="1.15"/>
<rect x="508.73" y="277.7" width="6.45" height="46.7" fill="#d3d3d4" stroke="#000" stroke-width="1.15"/>
<path d="M511.95 267.8V286.45M509.55 267.8H514.35M509.95 286.45H513.95" stroke="#6a6a6a" stroke-width="0.9" fill="none"/>
<path d="M521.15 278.73V270.81M518.75 270.81H523.55" stroke="#000" stroke-width="0.9" fill="none"/>
<rect x="517.93" y="279.31" width="6.45" height="45.09" fill="#000000" stroke="#000" stroke-width="1.15"/>
<path d="M385 228.45V324.4H528.45" stroke="#000" stroke-width="1" fill="none"/>
<path d="M381 324.4H385" stroke="#000" stroke-width="1"/>
<text x="379.8" y="328.1" class="tk" text-anchor="end">0.0</text>
<path d="M381 305.31H385" stroke="#000" stroke-width="1"/>
<text x="379.8" y="308.89" class="tk" text-anchor="end">0.5</text>
<path d="M381 286.22H385" stroke="#000" stroke-width="1"/>
<text x="379.8" y="289.68" class="tk" text-anchor="end">1.0</text>
<path d="M381 267.13H385" stroke="#000" stroke-width="1"/>
<text x="379.8" y="270.47" class="tk" text-anchor="end">1.5</text>
<path d="M381 248.04H385" stroke="#000" stroke-width="1"/>
<text x="379.8" y="251.26" class="tk" text-anchor="end">2.0</text>
<path d="M381 228.95H385" stroke="#000" stroke-width="1"/>
<text x="379.8" y="232.05" class="tk" text-anchor="end">2.5</text>
<path d="M392.35 324.4V328.4" stroke="#000" stroke-width="1"/>
<path d="M401.55 324.4V328.4" stroke="#000" stroke-width="1"/>
<path d="M410.75 324.4V328.4" stroke="#000" stroke-width="1"/>
<path d="M419.95 324.4V328.4" stroke="#000" stroke-width="1"/>
<path d="M429.15 324.4V328.4" stroke="#000" stroke-width="1"/>
<path d="M438.35 324.4V328.4" stroke="#000" stroke-width="1"/>
<path d="M447.55 324.4V328.4" stroke="#000" stroke-width="1"/>
<path d="M456.75 324.4V328.4" stroke="#000" stroke-width="1"/>
<path d="M465.95 324.4V328.4" stroke="#000" stroke-width="1"/>
<path d="M475.15 324.4V328.4" stroke="#000" stroke-width="1"/>
<path d="M484.35 324.4V328.4" stroke="#000" stroke-width="1"/>
<path d="M493.55 324.4V328.4" stroke="#000" stroke-width="1"/>
<path d="M502.75 324.4V328.4" stroke="#000" stroke-width="1"/>
<path d="M511.95 324.4V328.4" stroke="#000" stroke-width="1"/>
<path d="M521.15 324.4V328.4" stroke="#000" stroke-width="1"/>
<text class="xl" text-anchor="end" transform="translate(395.1 330.9) rotate(-90)">Control</text>
<text class="xl" text-anchor="end" transform="translate(408.8 330.9) rotate(-90)">CKTL</text>
<text class="xl" text-anchor="end" transform="translate(427.2 330.9) rotate(-90)">E1</text>
<text class="xl" text-anchor="end" transform="translate(445.9 330.9) rotate(-90)">E2</text>
<text class="xl" text-anchor="end" transform="translate(463.9 330.9) rotate(-90)">E3</text>
<text class="xl" text-anchor="end" transform="translate(482.6 330.9) rotate(-90)">P4</text>
<text class="xl" text-anchor="end" transform="translate(502.8 330.9) rotate(-90)">CRT</text>
<text class="xl" text-anchor="end" transform="translate(518.9 330.9) rotate(-90)">P-GH</text>
<path d="M401.7 238.5V224.1H410.8V227.1" stroke="#000" stroke-width="1.35" fill="none"/>
<text class="hs" text-anchor="middle" x="406.2" y="220.7">##</text>
<text class="st" text-anchor="middle" x="410.8" y="237.8">***</text>
<text class="st" text-anchor="middle" x="484.3" y="252.1">*</text>
<text class="lt" x="360.6" y="207.4">G</text>
<text class="ti" text-anchor="middle" x="435.7" y="208.4">OCT3</text>
</g>
<g>
<path d="M570.7 285.15V284.85M568.3 284.85H573.1" stroke="#1c1c1c" stroke-width="0.9" fill="none"/>
<rect x="567.48" y="285.72" width="6.45" height="38.68" fill="#ffffff" stroke="#000" stroke-width="1.15"/>
<path d="M579.9 277.73V277.23M577.5 277.23H582.3" stroke="#1c1c1c" stroke-width="0.9" fill="none"/>
<rect x="576.68" y="278.3" width="6.45" height="46.1" fill="#dafdc9" stroke="#000" stroke-width="1.15"/>
<path d="M589.1 252.06V238.72M586.7 238.72H591.5" stroke="#777" stroke-width="0.9" fill="none"/>
<rect x="585.88" y="252.63" width="6.45" height="71.77" fill="#6abf33" stroke="#000" stroke-width="1.15"/>
<rect x="595.08" y="282.72" width="6.45" height="41.68" fill="#d3d3d4" stroke="#000" stroke-width="1.15"/>
<path d="M598.3 278.63V285.65M595.9 278.63H600.7M596.3 285.65H600.3" stroke="#2a2a2a" stroke-width="0.9" fill="none"/>
<path d="M607.5 278.13V276.83M605.1 276.83H609.9" stroke="#000" stroke-width="0.9" fill="none"/>
<rect x="604.28" y="278.71" width="6.45" height="45.69" fill="#000000" stroke="#000" stroke-width="1.15"/>
<rect x="613.48" y="281.71" width="6.45" height="42.69" fill="#d3d3d4" stroke="#000" stroke-width="1.15"/>
<path d="M616.7 274.62V287.66M614.3 274.62H619.1M614.7 287.66H618.7" stroke="#2a2a2a" stroke-width="0.9" fill="none"/>
<path d="M625.9 265.09V253.76M623.5 253.76H628.3" stroke="#777" stroke-width="0.9" fill="none"/>
<rect x="622.68" y="265.67" width="6.45" height="58.73" fill="#000000" stroke="#000" stroke-width="1.15"/>
<rect x="631.88" y="293.75" width="6.45" height="30.65" fill="#d3d3d4" stroke="#000" stroke-width="1.15"/>
<path d="M635.1 286.65V299.69M632.7 286.65H637.5M633.1 299.69H637.1" stroke="#2a2a2a" stroke-width="0.9" fill="none"/>
<path d="M644.3 288.76V284.65M641.9 284.65H646.7" stroke="#000" stroke-width="0.9" fill="none"/>
<rect x="641.08" y="289.34" width="6.45" height="35.06" fill="#000000" stroke="#000" stroke-width="1.15"/>
<rect x="650.28" y="276.7" width="6.45" height="47.7" fill="#d3d3d4" stroke="#000" stroke-width="1.15"/>
<path d="M653.5 267.8V284.45M651.1 267.8H655.9M651.5 284.45H655.5" stroke="#6a6a6a" stroke-width="0.9" fill="none"/>
<path d="M662.7 254.26V238.72M660.3 238.72H665.1" stroke="#000" stroke-width="0.9" fill="none"/>
<rect x="659.48" y="254.84" width="6.45" height="69.56" fill="#000000" stroke="#000" stroke-width="1.15"/>
<rect x="668.68" y="284.72" width="6.45" height="39.68" fill="#d3d3d4" stroke="#000" stroke-width="1.15"/>
<path d="M671.9 282.64V285.65M669.5 282.64H674.3M669.9 285.65H673.9" stroke="#2a2a2a" stroke-width="0.9" fill="none"/>
<path d="M681.1 278.73V272.61M678.7 272.61H683.5" stroke="#000" stroke-width="0.9" fill="none"/>
<rect x="677.88" y="279.31" width="6.45" height="45.09" fill="#000000" stroke="#000" stroke-width="1.15"/>
<rect x="687.08" y="279.91" width="6.45" height="44.49" fill="#d3d3d4" stroke="#000" stroke-width="1.15"/>
<path d="M690.3 275.82V282.84M687.9 275.82H692.7M688.3 282.84H692.3" stroke="#2a2a2a" stroke-width="0.9" fill="none"/>
<path d="M699.5 281.74V279.63M697.1 279.63H701.9" stroke="#000" stroke-width="0.9" fill="none"/>
<rect x="696.28" y="282.32" width="6.45" height="42.08" fill="#000000" stroke="#000" stroke-width="1.15"/>
<path d="M563.3 228.2V324.4H706.8" stroke="#000" stroke-width="1" fill="none"/>
<path d="M559.3 324.4H563.3" stroke="#000" stroke-width="1"/>
<text x="558.1" y="328.1" class="tk" text-anchor="end">0.0</text>
<path d="M559.3 305.26H563.3" stroke="#000" stroke-width="1"/>
<text x="558.1" y="308.84" class="tk" text-anchor="end">0.5</text>
<path d="M559.3 286.12H563.3" stroke="#000" stroke-width="1"/>
<text x="558.1" y="289.58" class="tk" text-anchor="end">1.0</text>
<path d="M559.3 266.98H563.3" stroke="#000" stroke-width="1"/>
<text x="558.1" y="270.32" class="tk" text-anchor="end">1.5</text>
<path d="M559.3 247.84H563.3" stroke="#000" stroke-width="1"/>
<text x="558.1" y="251.06" class="tk" text-anchor="end">2.0</text>
<path d="M559.3 228.7H563.3" stroke="#000" stroke-width="1"/>
<text x="558.1" y="231.8" class="tk" text-anchor="end">2.5</text>
<path d="M570.7 324.4V328.4" stroke="#000" stroke-width="1"/>
<path d="M579.9 324.4V328.4" stroke="#000" stroke-width="1"/>
<path d="M589.1 324.4V328.4" stroke="#000" stroke-width="1"/>
<path d="M598.3 324.4V328.4" stroke="#000" stroke-width="1"/>
<path d="M607.5 324.4V328.4" stroke="#000" stroke-width="1"/>
<path d="M616.7 324.4V328.4" stroke="#000" stroke-width="1"/>
<path d="M625.9 324.4V328.4" stroke="#000" stroke-width="1"/>
<path d="M635.1 324.4V328.4" stroke="#000" stroke-width="1"/>
<path d="M644.3 324.4V328.4" stroke="#000" stroke-width="1"/>
<path d="M653.5 324.4V328.4" stroke="#000" stroke-width="1"/>
<path d="M662.7 324.4V328.4" stroke="#000" stroke-width="1"/>
<path d="M671.9 324.4V328.4" stroke="#000" stroke-width="1"/>
<path d="M681.1 324.4V328.4" stroke="#000" stroke-width="1"/>
<path d="M690.3 324.4V328.4" stroke="#000" stroke-width="1"/>
<path d="M699.5 324.4V328.4" stroke="#000" stroke-width="1"/>
<text class="xl" text-anchor="end" transform="translate(572.8 331) rotate(-90)">Control</text>
<text class="xl" text-anchor="end" transform="translate(586.5 331) rotate(-90)">CKTL</text>
<text class="xl" text-anchor="end" transform="translate(604.9 331) rotate(-90)">E1</text>
<text class="xl" text-anchor="end" transform="translate(623.4 331) rotate(-90)">E2</text>
<text class="xl" text-anchor="end" transform="translate(641.4 331) rotate(-90)">E3</text>
<text class="xl" text-anchor="end" transform="translate(660.1 331) rotate(-90)">P4</text>
<text class="xl" text-anchor="end" transform="translate(680.3 331) rotate(-90)">CRT</text>
<text class="xl" text-anchor="end" transform="translate(696.4 331) rotate(-90)">P-GH</text>
<path d="M579.7 249.8V223.7H588.8V228.5" stroke="#000" stroke-width="1.35" fill="none"/>
<text class="hs" text-anchor="middle" x="585.6" y="220.7">#</text>
<text class="st" text-anchor="middle" x="588.8" y="240">**</text>
<text class="st" text-anchor="middle" x="662" y="240">**</text>
<text class="lt" x="537.3" y="207.4">H</text>
<text class="ti" text-anchor="middle" x="615.2" y="207.7">P-GP</text>
</g>
<text class="yl" text-anchor="middle" transform="translate(9.4 97.8) rotate(-90)">Fold Change</text>
<text class="yl" text-anchor="middle" transform="translate(8.2 300.9) rotate(-90)">Fold Change</text>
</svg>
</body>
</html>
